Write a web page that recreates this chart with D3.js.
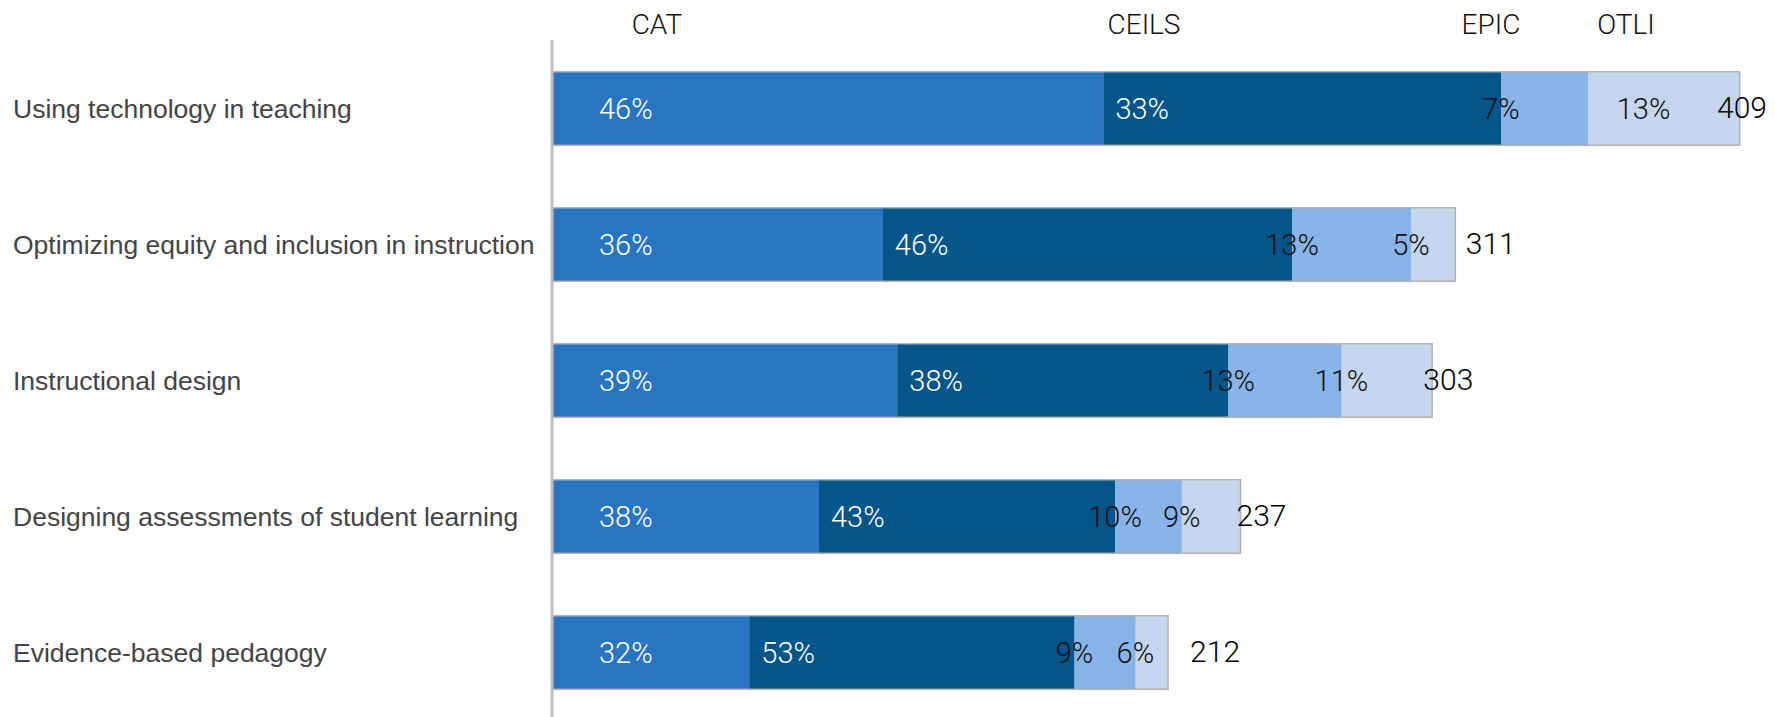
<!DOCTYPE html>
<html>
<head>
<meta charset="utf-8">
<script src="https://cdn.jsdelivr.net/npm/d3@7"></script>
<style>
  html, body { margin: 0; padding: 0; background: #fff; }
  svg { display: block; }
</style>
</head>
<body>
<svg id="chart" width="1775" height="717"></svg>
<script>
// ---------- DATA ----------
const categories = [
  "Using technology in teaching",
  "Optimizing equity and inclusion in instruction",
  "Instructional design",
  "Designing assessments of student learning",
  "Evidence-based pedagogy"
];
const seriesNames = ["CAT", "CEILS", "EPIC", "OTLI"];
// respondent counts per unit
const catCounts   = [190, 114, 119, 92, 68];
const ceilsCounts = [137, 141, 114, 102, 112];
const epicCounts  = [30, 41, 39, 23, 21];
const otliCounts  = [52, 15, 31, 20, 11];
// percentage labels shown on the segments
const catPct   = [46, 36, 39, 38, 32];
const ceilsPct = [33, 46, 38, 43, 53];
const epicPct  = [7, 13, 13, 10, 9];
const otliPct  = [13, 5, 11, 9, 6];
// total respondents
const totals = [409, 311, 303, 237, 212];

// ---------- LAYOUT ----------
const W = 1775, H = 717;
const axisX = 552;
const colors = { CAT: "#2a75c2", CEILS: "#03558a", EPIC: "#88b4e8", OTLI: "#c4d7ee" };
const labelColors = { CAT: "#ffffff", CEILS: "#ffffff", EPIC: "#111111", OTLI: "#111111" };
const legendX = { CAT: 657, CEILS: 1144, EPIC: 1491, OTLI: 1626 };

const rows = categories.map((c, i) => ({
  cat: c, CAT: catCounts[i], CEILS: ceilsCounts[i], EPIC: epicCounts[i], OTLI: otliCounts[i],
  pct: { CAT: catPct[i], CEILS: ceilsPct[i], EPIC: epicPct[i], OTLI: otliPct[i] },
  total: totals[i]
}));

const svg = d3.select("#chart");

const x = d3.scaleLinear().domain([0, d3.max(totals)]).range([axisX, 1739]);
const y = d3.scaleBand().domain(categories).range([40.5, 720.5]).paddingInner(0.47).paddingOuter(0.235);

const stacked = d3.stack().keys(seriesNames)(rows);

// legend (series names across the top)
svg.append("g").selectAll("text").data(seriesNames).join("text")
  .attr("x", d => legendX[d]).attr("y", 34)
  .attr("text-anchor", "middle")
  .style("font-family", "Roboto, 'Liberation Sans', sans-serif")
  .style("font-weight", 300)
  .style("font-size", "28px")
  .attr("fill", "#111")
  .text(d => d);

// category labels
svg.append("g").selectAll("text").data(categories).join("text")
  .attr("x", 13).attr("y", d => y(d) + y.bandwidth() / 2)
  .attr("dy", "0.36em")
  .style("font-family", "'Liberation Sans', Arial, sans-serif")
  .style("font-size", "26.5px")
  .attr("fill", "#444")
  .text(d => d);

// bar outlines
svg.append("g").selectAll("rect").data(rows).join("rect")
  .attr("x", x(0)).attr("y", d => y(d.cat) - 1.5)
  .attr("width", d => x(d.total) - x(0) + 1.5)
  .attr("height", y.bandwidth() + 3)
  .attr("fill", "#b3b3b3");

// segments
const segG = svg.append("g");
stacked.forEach(layer => {
  segG.append("g").selectAll("rect").data(layer).join("rect")
    .attr("x", d => x(d[0]))
    .attr("y", d => y(d.data.cat))
    .attr("width", d => x(d[1]) - x(d[0]))
    .attr("height", y.bandwidth())
    .attr("fill", colors[layer.key]);
});

// axis line
svg.append("line")
  .attr("x1", axisX).attr("x2", axisX).attr("y1", 40).attr("y2", H)
  .attr("stroke", "#bdbdbd").attr("stroke-width", 3);

// percentage labels
const lblFont = "Roboto, 'Liberation Sans', sans-serif";
const otliLabelEnd = {};
stacked.forEach(layer => {
  const key = layer.key;
  segG.append("g").selectAll("text").data(layer).join("text")
    .attr("x", d => {
      const x0 = x(d[0]), x1 = x(d[1]);
      if (key === "CAT") return x0 + 47;
      if (key === "CEILS") return x0 + 12;
      if (key === "EPIC") return x0;
      return (x1 - x0 > 120) ? (x0 + x1) / 2 - 20 : x0;
    })
    .attr("y", d => y(d.data.cat) + y.bandwidth() / 2)
    .attr("dy", "0.36em")
    .attr("text-anchor", key === "CAT" || key === "CEILS" ? "start" : "middle")
    .style("font-family", lblFont)
    .style("font-weight", 300)
    .style("font-size", "29px")
    .attr("fill", labelColors[key])
    .text(d => d.data.pct[key] + "%")
    .each(function(d) {
      if (key === "OTLI") { const b = this.getBBox(); otliLabelEnd[d.data.cat] = b.x + b.width; }
    });
});

// total labels
svg.append("g").selectAll("text").data(rows).join("text")
  .attr("x", d => Math.max(x(d.total) - 8, otliLabelEnd[d.cat] + 36))
  .attr("y", d => y(d.cat) + y.bandwidth() / 2)
  .attr("dy", "0.32em")
  .attr("text-anchor", "start")
  .style("font-family", lblFont)
  .style("font-weight", 300)
  .style("font-size", "30px")
  .attr("fill", "#000")
  .text(d => d.total)
  .each(function() {
    const b = this.getBBox();
    if (b.x + b.width > W - 8) d3.select(this).attr("x", W - 8 - b.width);
  });
</script>
</body>
</html>
